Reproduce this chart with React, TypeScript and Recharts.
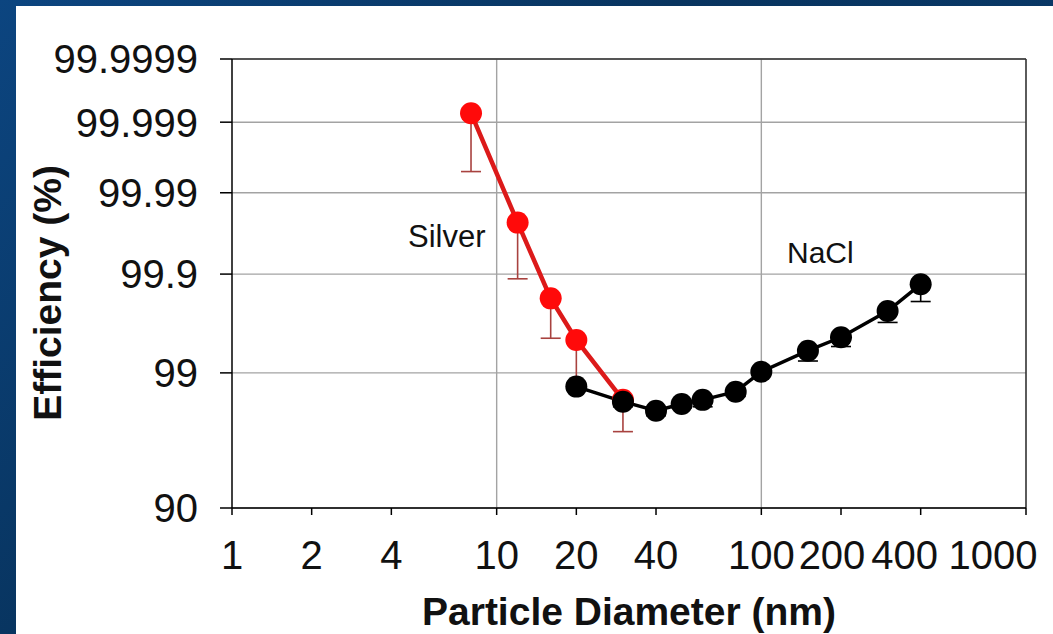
import React from "react";
import {
  LineChart,
  Line,
  XAxis,
  YAxis,
  CartesianGrid,
  ReferenceLine,
  ErrorBar,
  Label,
} from "recharts";

// particle diameter (nm) and measured efficiency (%), lower bound of the error bar
const SILVER_D = [8, 12, 16, 20, 30];
const SILVER_EFF = [99.99927, 99.9757, 99.815, 99.507, 98.29];
const SILVER_LOW = [99.99484, 99.887, 99.526, 98.75, 96.94];

const NACL_D = [20, 30, 40, 50, 60, 80, 100, 150, 200, 300, 400];
const NACL_EFF = [98.68, 98.23, 97.9, 98.15, 98.29, 98.54, 99.025, 99.375, 99.536, 99.748, 99.87];
const NACL_LOW = [98.68, 98.05, 97.7, 98.0, 98.05, 98.4, 99.0, 99.22, 99.43, 99.67, 99.8];

const X_TICKS = [1, 2, 4, 10, 20, 40, 100, 200, 400, 1000];
const X_LABELS = ["1", "2", "4", "10", "20", "40", "100", "200", "400", "1000"];
const Y_TICKS = [90, 99, 99.9, 99.99, 99.999, 99.9999];
const Y_LABELS = ["90", "99", "99.9", "99.99", "99.999", "99.9999"];

const FONT = "'Liberation Sans', Arial, Helvetica, sans-serif";
// labels in the source were nudged left near the right edge
const X_NUDGE: Record<number, number> = { 200: -9, 400: -16, 1000: -33 };

// inverse normal CDF (Acklam) -> probability axis
function invNorm(p: number): number {
  const a = [-3.969683028665376e1, 2.209460984245205e2, -2.759285104469687e2, 1.38357751867269e2, -3.066479806614716e1, 2.506628277459239];
  const b = [-5.447609879822406e1, 1.615858368580409e2, -1.556989798598866e2, 6.680131188771972e1, -1.328068155288572e1];
  const c = [-7.784894002430293e-3, -3.223964580411365e-1, -2.400758277161838, -2.549732539343734, 4.374664141464968, 2.938163982698783];
  const d = [7.784695709041462e-3, 3.224671290700398e-1, 2.445134137142996, 3.754408661907416];
  const plow = 0.02425;
  if (p < plow) {
    const q = Math.sqrt(-2 * Math.log(p));
    return (((((c[0] * q + c[1]) * q + c[2]) * q + c[3]) * q + c[4]) * q + c[5]) /
      ((((d[0] * q + d[1]) * q + d[2]) * q + d[3]) * q + 1);
  }
  if (p <= 1 - plow) {
    const q = p - 0.5;
    const r = q * q;
    return ((((((a[0] * r + a[1]) * r + a[2]) * r + a[3]) * r + a[4]) * r + a[5]) * q) /
      (((((b[0] * r + b[1]) * r + b[2]) * r + b[3]) * r + b[4]) * r + 1);
  }
  const q = Math.sqrt(-2 * Math.log(1 - p));
  return -(((((c[0] * q + c[1]) * q + c[2]) * q + c[3]) * q + c[4]) * q + c[5]) /
    ((((d[0] * q + d[1]) * q + d[2]) * q + d[3]) * q + 1);
}

const probit = (eff: number) => -invNorm((100 - eff) / 100);

const toRows = (ds: number[], effs: number[], lows: number[]) =>
  ds.map((d, i) => {
    const y = probit(effs[i]);
    return { d, eff: effs[i], y, err: [Math.max(0, y - probit(lows[i])), 0] };
  });

const silverRows = toRows(SILVER_D, SILVER_EFF, SILVER_LOW);
const naclRows = toRows(NACL_D, NACL_EFF, NACL_LOW);

const Y_POS = Y_TICKS.map(probit);

const XTick = (props: any) => {
  const { x, y, payload, index } = props;
  const nudge = X_NUDGE[payload.value] || 0;
  return (
    <text x={x + nudge} y={y + 52} textAnchor="middle" fontSize={40} fontFamily={FONT} fill="#111">
      {X_LABELS[index]}
    </text>
  );
};

const YTick = (props: any) => {
  const { x, y, index } = props;
  return (
    <text x={x} y={y} dy="0.36em" textAnchor="end" fontSize={40} fontFamily={FONT} fill="#111">
      {Y_LABELS[index]}
    </text>
  );
};

const txt = (s: string, x: number, y: number, size: number) => () => (
  <text x={x} y={y} fontSize={size} fontFamily={FONT} fill="#111">
    {s}
  </text>
);

export default function App() {
  return (
    <div
      style={{
        position: "absolute",
        left: 0,
        top: 0,
        width: 1053,
        height: 634,
        background: "linear-gradient(135deg, #0c4580 0%, #08345f 40%, #0a3d70 100%)",
        overflow: "hidden",
      }}
    >
      <div style={{ position: "absolute", left: 16, top: 6, right: 0, bottom: 0, background: "#fff" }} />
      <div style={{ position: "absolute", left: 0, top: 0 }}>
        <LineChart width={1053} height={634} margin={{ top: 59, right: 27, left: 0, bottom: 0 }}>
          <CartesianGrid horizontal vertical={false} stroke="#a3a3a3" strokeWidth={1.4} />
          <XAxis
            dataKey="d"
            type="number"
            scale="log"
            domain={[1, 1000]}
            ticks={X_TICKS}
            interval={0}
            allowDataOverflow
            height={126}
            tickSize={7}
            tick={<XTick />}
            axisLine={{ stroke: "#000", strokeWidth: 1.5 }}
            tickLine={{ stroke: "#000", strokeWidth: 1.5 }}
          >
            <Label
              content={() => (
                <text x={629} y={625} textAnchor="middle" fontSize={39} fontWeight="bold" fontFamily={FONT} fill="#111">
                  Particle Diameter (nm)
                </text>
              )}
            />
            <Label content={txt("Silver", 408, 247, 31)} />
            <Label content={txt("NaCl", 787, 263, 30)} />
          </XAxis>
          <YAxis
            type="number"
            domain={[Y_POS[0], Y_POS[Y_POS.length - 1]]}
            ticks={Y_POS}
            interval={0}
            allowDataOverflow
            width={232}
            tickSize={12}
            tickMargin={22}
            tick={<YTick />}
            axisLine={{ stroke: "#000", strokeWidth: 1.5 }}
            tickLine={{ stroke: "#000", strokeWidth: 1.5 }}
          >
            <Label
              content={() => (
                <text
                  transform="translate(61,293) rotate(-90)"
                  textAnchor="middle"
                  fontSize={39}
                  fontWeight="bold"
                  fontFamily={FONT}
                  fill="#111"
                >
                  Efficiency (%)
                </text>
              )}
            />
          </YAxis>
          <ReferenceLine x={10} stroke="#a3a3a3" strokeWidth={1.4} />
          <ReferenceLine x={100} stroke="#a3a3a3" strokeWidth={1.4} />
          <ReferenceLine y={Y_POS[Y_POS.length - 1]} stroke="#333" strokeWidth={1.6} />
          <ReferenceLine x={1000} stroke="#333" strokeWidth={1.6} />
          <Line
            data={silverRows}
            dataKey="y"
            stroke="#dc1a1a"
            strokeWidth={4.5}
            dot={{ r: 11, fill: "#ff0a0a", stroke: "none" }}
            activeDot={false}
            isAnimationActive={false}
          >
            <ErrorBar dataKey="err" direction="y" width={10} stroke="#a8423f" strokeWidth={1.6} />
          </Line>
          <Line
            data={naclRows}
            dataKey="y"
            stroke="#000"
            strokeWidth={3.5}
            dot={{ r: 11, fill: "#000", stroke: "none" }}
            activeDot={false}
            isAnimationActive={false}
          >
            <ErrorBar dataKey="err" direction="y" width={10} stroke="#000" strokeWidth={1.6} />
          </Line>
        </LineChart>
      </div>
    </div>
  );
}
